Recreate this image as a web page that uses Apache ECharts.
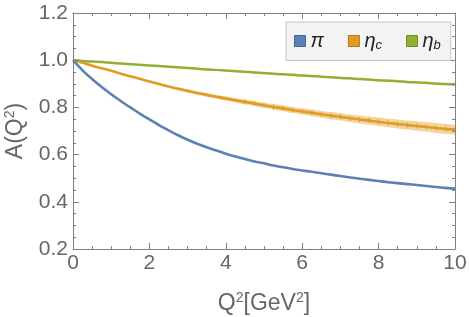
<!DOCTYPE html>
<html>
<head>
<meta charset="utf-8">
<script src="https://cdn.jsdelivr.net/npm/echarts@6/dist/echarts.min.js"></script>
<style>html,body{margin:0;padding:0;background:#fff;}#c{width:469px;height:317px;}</style>
</head>
<body>
<div id="c"></div>
<script>
// Q^2 [GeV^2]
var q2 = [0,0.25,0.5,0.75,1,1.25,1.5,1.75,2,2.25,2.5,2.75,3,3.25,3.5,3.75,4,4.25,4.5,4.75,5,5.25,5.5,5.75,6,6.25,6.5,6.75,7,7.25,7.5,7.75,8,8.25,8.5,8.75,9,9.25,9.5,9.75,10];
var piVals = [1.000,0.957,0.920,0.886,0.856,0.827,0.800,0.774,0.749,0.725,0.703,0.682,0.663,0.646,0.631,0.617,0.604,0.592,0.581,0.571,0.563,0.554,0.546,0.539,0.533,0.527,0.521,0.515,0.509,0.503,0.498,0.493,0.488,0.483,0.479,0.475,0.471,0.467,0.463,0.459,0.456];
var etacVals = [1.000,0.989,0.977,0.966,0.955,0.943,0.932,0.921,0.910,0.899,0.889,0.879,0.870,0.861,0.853,0.845,0.838,0.830,0.823,0.816,0.809,0.802,0.796,0.789,0.783,0.777,0.771,0.765,0.760,0.754,0.749,0.744,0.739,0.734,0.730,0.725,0.721,0.717,0.713,0.709,0.706];
var etacErr = [0,0.001,0.001,0.002,0.002,0.003,0.003,0.004,0.004,0.005,0.005,0.006,0.007,0.007,0.008,0.008,0.009,0.009,0.010,0.010,0.011,0.012,0.012,0.013,0.013,0.014,0.014,0.015,0.015,0.016,0.017,0.017,0.018,0.018,0.019,0.019,0.020,0.020,0.021,0.021,0.021];
var etabVals = [1.000,0.997,0.994,0.992,0.989,0.986,0.983,0.981,0.978,0.975,0.972,0.970,0.967,0.964,0.961,0.959,0.956,0.953,0.951,0.948,0.946,0.943,0.940,0.938,0.935,0.933,0.930,0.928,0.925,0.923,0.920,0.918,0.915,0.913,0.911,0.908,0.906,0.904,0.901,0.899,0.897];
var xTicks = [0,2,4,6,8,10];
var yTicks = [0.2,0.4,0.6,0.8,1.0,1.2];

var C_PI = '#5E81B5', C_C = '#E19C24', C_B = '#8FB032';
var frame = '#808080', lbl = '#666666';
var font = 'Liberation Sans, Arial, sans-serif';

function pairs(v){ return q2.map(function(x,i){ return [x, v[i]]; }); }
var bandHigh = q2.map(function(x,i){ return [x, etacVals[i]+etacErr[i]]; });
var bandLow = q2.map(function(x,i){ return [x, etacVals[i]-etacErr[i]]; });

var axisCommon = {
  type:'value', z:10,
  axisLine:{show:true, onZero:false, lineStyle:{color:frame, width:1}},
  axisTick:{show:true, inside:true, length:6, lineStyle:{color:frame}},
  minorTick:{show:true, splitNumber:4, length:3, lineStyle:{color:frame}},
  splitLine:{show:false}
};
function ax(extra){ return Object.assign({}, JSON.parse(JSON.stringify(axisCommon)), extra); }

var chart = echarts.init(document.getElementById('c'), null, {renderer:'canvas'});
chart.setOption({
  animation:false,
  backgroundColor:'#ffffff',
  grid:{left:73, right:14, top:13, bottom:68, containLabel:false, outerBoundsMode:'none'},
  legend:{
    left:286, top:22, z:20,
    padding:[9,10,9,8],
    backgroundColor:'#f3f3f3', borderColor:'#c4c4c4', borderWidth:1, borderRadius:0,
    itemWidth:11, itemHeight:11, itemGap:24, textStyle:{color:'#222', fontFamily:font, fontSize:20, fontStyle:'italic',
      rich:{i:{fontSize:20, fontStyle:'italic', fontFamily:font, color:'#222'}, s:{fontSize:13, fontStyle:'italic', fontFamily:font, color:'#222', padding:[8,0,0,0]}}},
    formatter:function(n){ if(n==='π') return '{i|π}'; if(n==='ηc') return '{i|η}{s|c}'; return '{i|η}{s|b}'; },
    data:[
      {name:'π', icon:'rect', itemStyle:{color:C_PI, borderColor:'#44649a', borderWidth:1}},
      {name:'ηc', icon:'rect', itemStyle:{color:C_C, borderColor:'#b77a10', borderWidth:1}},
      {name:'ηb', icon:'rect', itemStyle:{color:C_B, borderColor:'#6f8c20', borderWidth:1}}
    ]
  },
  xAxis:[
    ax({min:0, max:10, interval:2, position:'bottom',
      axisLabel:{color:lbl, fontSize:21, fontFamily:font, margin:4},
      name:'{n|Q}{s|2}{n|[GeV}{s|2}{n|]}', nameLocation:'middle', nameGap:42,
      nameTextStyle:{rich:{n:{fontSize:23, color:lbl, fontFamily:font}, s:{fontSize:14, color:lbl, fontFamily:font, padding:[0,0,11,0]}}}
    }),
    ax({min:0, max:10, interval:2, position:'top', axisLabel:{show:false}})
  ],
  yAxis:[
    ax({min:0.2, max:1.2, interval:0.2, position:'left',
      axisLabel:{color:lbl, fontSize:21, fontFamily:font, margin:5, formatter:function(v){return v.toFixed(1);}},
      name:'{n|A(Q}{s|2}{n|)}', nameLocation:'middle', nameGap:45,
      nameTextStyle:{rich:{n:{fontSize:23, color:lbl, fontFamily:font}, s:{fontSize:14, color:lbl, fontFamily:font, padding:[0,0,11,0]}}}
    }),
    ax({min:0.2, max:1.2, interval:0.2, position:'right', axisLabel:{show:false}})
  ],
  series:[
    {name:'bandHigh', type:'line', z:1, data:bandHigh, symbol:'none', smooth:0.3, lineStyle:{opacity:0},
      areaStyle:{color:'#F3D49E', opacity:1, origin:'start'}, silent:true},
    {name:'bandLow', type:'line', z:1, data:bandLow, symbol:'none', smooth:0.3, lineStyle:{opacity:0},
      areaStyle:{color:'#ffffff', opacity:1, origin:'start'}, silent:true},
    {name:'ηb', type:'line', z:3, data:pairs(etabVals), symbol:'none', smooth:0.3, lineStyle:{color:C_B, width:2.5}, itemStyle:{color:C_B}},
    {name:'ηc', type:'line', z:3, data:pairs(etacVals), smooth:0.3, showSymbol:true, showAllSymbol:true, symbol:'rect',
      symbolSize:function(v){ return v[0] >= 4.5 ? [1,5] : 0; },
      lineStyle:{color:C_C, width:2.6}, itemStyle:{color:C_C}},
    {name:'π', type:'line', z:3, data:pairs(piVals), symbol:'none', smooth:0.3, lineStyle:{color:C_PI, width:2.6}, itemStyle:{color:C_PI}}
  ]
});
</script>
</body>
</html>
